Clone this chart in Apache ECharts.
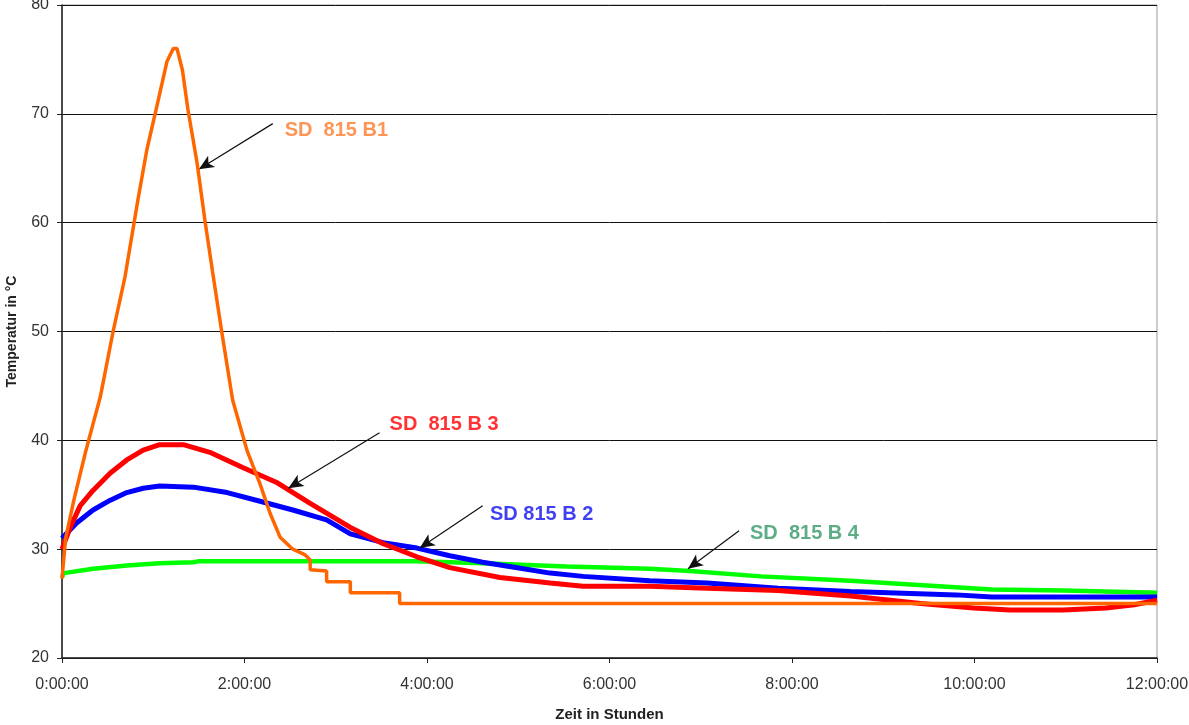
<!DOCTYPE html>
<html>
<head>
<meta charset="utf-8">
<script src="https://cdn.jsdelivr.net/npm/echarts@6/dist/echarts.min.js"></script>
<style>
html,body{margin:0;padding:0;background:#fff;}
#chart{width:1189px;height:725px;}
</style>
</head>
<body>
<div id="chart"></div>
<script>
// Time in hours, temperature in °C
const b1Times = [0, 0.04, 0.13, 0.26, 0.42, 0.56, 0.69, 0.83, 0.93, 1.04, 1.15, 1.22, 1.26, 1.32, 1.38, 1.48, 1.57, 1.65, 1.75, 1.87, 2.03, 2.17, 2.28, 2.39, 2.53, 2.66, 2.72, 2.72, 2.90, 2.90, 3.16, 3.16, 3.70, 3.70, 12];
const b1Temps = [27.3, 31.0, 34.5, 39.0, 44.0, 50.0, 55.0, 62.0, 66.7, 70.7, 74.8, 76.0, 76.0, 74.0, 70.4, 65.5, 60.0, 55.5, 50.0, 43.7, 39.0, 36.0, 33.3, 31.1, 30.0, 29.5, 29.0, 28.1, 28.0, 27.0, 27.0, 26.0, 26.0, 25.0, 25.0];

const b3Times = [0, 0.09, 0.20, 0.34, 0.53, 0.71, 0.89, 1.07, 1.33, 1.62, 1.98, 2.36, 2.72, 3.16, 3.52, 3.89, 4.25, 4.80, 5.35, 5.71, 6.44, 7.07, 7.85, 8.64, 9.41, 9.99, 10.39, 10.97, 11.44, 11.75, 12];
const b3Temps = [30.0, 32.0, 34.0, 35.4, 37.0, 38.2, 39.1, 39.6, 39.6, 38.9, 37.5, 36.1, 34.2, 32.0, 30.5, 29.3, 28.3, 27.4, 26.9, 26.6, 26.6, 26.4, 26.2, 25.7, 25.0, 24.6, 24.4, 24.4, 24.6, 24.9, 25.3];

const b2Times = [0, 0.16, 0.34, 0.53, 0.71, 0.89, 1.07, 1.44, 1.81, 2.17, 2.53, 2.90, 3.16, 3.52, 3.89, 4.25, 4.61, 4.99, 5.35, 5.71, 6.44, 7.07, 7.85, 8.64, 9.80, 10.19, 12];
const b2Temps = [31.0, 32.4, 33.6, 34.5, 35.2, 35.6, 35.8, 35.7, 35.2, 34.4, 33.6, 32.7, 31.4, 30.6, 30.1, 29.4, 28.8, 28.3, 27.8, 27.5, 27.1, 26.9, 26.4, 26.1, 25.8, 25.6, 25.6];

const b4Times = [0, 0.02, 0.34, 0.71, 1.07, 1.44, 1.50, 3.89, 4.61, 5.53, 6.44, 6.88, 7.66, 8.64, 9.61, 10.19, 10.97, 12];
const b4Temps = [27.4, 27.8, 28.2, 28.5, 28.7, 28.8, 28.9, 28.9, 28.7, 28.4, 28.2, 28.0, 27.5, 27.1, 26.6, 26.3, 26.2, 26.0];

const yTicks = [20, 30, 40, 50, 60, 70, 80];
const xTicks = [0, 2, 4, 6, 8, 10, 12];
const xTickLabels = ['0:00:00', '2:00:00', '4:00:00', '6:00:00', '8:00:00', '10:00:00', '12:00:00'];

// Annotation labels (anchor in data units) and arrows (start -> end in data units)
const labelTexts = ['SD  815 B1', 'SD  815 B 3', 'SD 815 B 2', 'SD  815 B 4'];
const labelTimes = [2.44, 3.59, 4.69, 7.54];
const labelTemps = [68.5, 41.5, 33.2, 31.4];
const arrowFromTimes = [2.31, 3.48, 4.61, 7.42];
const arrowFromTemps = [69.1, 40.7, 34.0, 31.7];
const arrowToTimes = [1.50, 2.48, 3.92, 6.86];
const arrowToTemps = [64.9, 35.6, 30.1, 28.2];

const zip = (a, b) => a.map((v, i) => [v, b[i]]);
const labelColors = ['#FF7A2A', '#FF0000', '#1010F0', '#339966'];

const chart = echarts.init(document.getElementById('chart'), null, {renderer: 'canvas'});
const FONT = 'Liberation Sans, Arial, sans-serif';

chart.setOption({
  animation: false,
  backgroundColor: '#fff',
  grid: {left: 62, right: 32, top: 5, bottom: 67, show: true, borderColor: '#999', borderWidth: 1,
    containLabel: false, outerBoundsMode: 'none'},
  xAxis: {
    type: 'value', min: xTicks[0], max: xTicks[xTicks.length - 1], interval: 2,
    name: 'Zeit in Stunden', nameLocation: 'middle', nameGap: 49,
    nameTextStyle: {fontFamily: FONT, fontSize: 15, fontWeight: 'bold', color: '#222'},
    axisLine: {show: true, lineStyle: {color: '#222', width: 1.5}},
    axisTick: {show: true, length: 5, lineStyle: {color: '#222'}},
    axisLabel: {
      margin: 19, fontFamily: FONT, fontSize: 16, color: '#333',
      formatter: v => xTickLabels[xTicks.indexOf(v)]
    },
    splitLine: {show: false}
  },
  yAxis: {
    type: 'value', min: yTicks[0], max: yTicks[yTicks.length - 1], interval: 10,
    name: 'Temperatur in °C', nameLocation: 'middle', nameGap: 43, nameRotate: 90,
    nameTextStyle: {fontFamily: FONT, fontSize: 14, fontWeight: 'bold', color: '#222'},
    axisLine: {show: true, lineStyle: {color: '#222', width: 1.5}},
    axisTick: {show: true, length: 5, lineStyle: {color: '#222'}},
    axisLabel: {margin: 13, fontFamily: FONT, fontSize: 16, color: '#333'},
    splitLine: {show: true, lineStyle: {color: '#111', width: 1}}
  },
  series: [
    {name: 'SD 815 B4', type: 'line', data: zip(b4Times, b4Temps), showSymbol: false,
      lineStyle: {color: '#00FF00', width: 4.5}, z: 2},
    {name: 'SD 815 B2', type: 'line', data: zip(b2Times, b2Temps), showSymbol: false,
      lineStyle: {color: '#0000FF', width: 5}, z: 3},
    {name: 'SD 815 B3', type: 'line', data: zip(b3Times, b3Temps), showSymbol: false,
      lineStyle: {color: '#FF0000', width: 5}, z: 4},
    {name: 'SD 815 B1', type: 'line', data: zip(b1Times, b1Temps), showSymbol: false,
      lineStyle: {color: '#FF6600', width: 3.5}, z: 5},
    {
      name: 'labels', type: 'scatter', symbolSize: 0, z: 6, silent: true,
      data: labelTexts.map((t, i) => ({
        value: [labelTimes[i], labelTemps[i]],
        label: {show: true, position: 'right', distance: 0, formatter: t,
          color: labelColors[i], fontFamily: FONT, fontSize: 20, fontWeight: 'bold'}
      })),
      markLine: {
        silent: true, symbol: ['none', 'arrow'], symbolSize: [10, 15],
        label: {show: false},
        lineStyle: {color: '#111', width: 1.2, type: 'solid'},
        data: arrowFromTimes.map((t, i) => [
          {coord: [t, arrowFromTemps[i]]},
          {coord: [arrowToTimes[i], arrowToTemps[i]]}
        ])
      }
    }
  ]
});
</script>
</body>
</html>
